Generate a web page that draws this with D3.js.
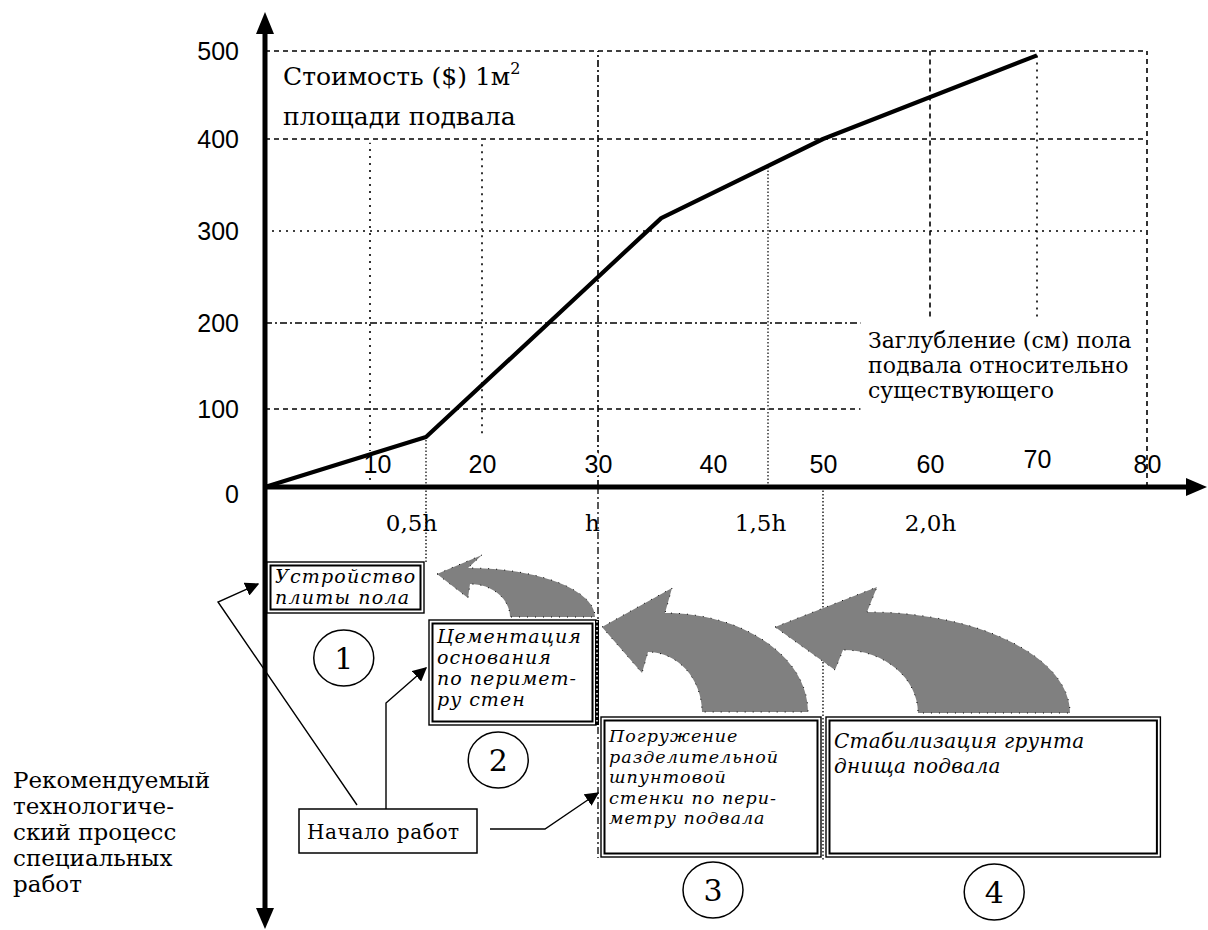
<!DOCTYPE html>
<html>
<head>
<meta charset="utf-8">
<script src="https://cdn.jsdelivr.net/npm/d3@7"></script>
<style>
  html, body { margin: 0; padding: 0; background: #ffffff; }
  svg { display: block; }
</style>
</head>
<body>
<svg id="chart" width="1208" height="930"></svg>
<script>
// ---------------- DATA ----------------
const depth = [0, 15, 35.5, 50, 70];          // cm
const cost  = [0, 64, 314, 400, 495];         // $ per m2
const yTicks = [0, 100, 200, 300, 400, 500];
const xTicks = [10, 20, 30, 40, 50, 60, 70, 80];
const hTicks  = [15, 30, 45, 60];
const hLabels = ["0,5h", "h", "1,5h", "2,0h"];
const stageStart = [0, 15, 30, 50];
const stageEnd   = [15, 30, 50, 81.4];
const stageNums  = ["1", "2", "3", "4"];
const stageTexts = [
  ["Устройство", "плиты пола"],
  ["Цементация", "основания", "по перимет-", "ру стен"],
  ["Погружение", "разделительной", "шпунтовой", "стенки по пери-", "метру подвала"],
  ["Стабилизация грунта", "днища подвала"]
];
const titleLines = ["Стоимость ($) 1м", "площади подвала"];
const xTitleLines = ["Заглубление (см) пола", "подвала относительно", "существующего"];
const leftLines = ["Рекомендуемый", "технологиче-", "ский процесс", "специальных", "работ"];
const startLabel = "Начало работ";

// ---------------- LAYOUT ----------------
const svg = d3.select("#chart");
const serif = "'DejaVu Serif', 'Liberation Serif', serif";
const sans = "'Liberation Sans', Arial, sans-serif";

const x = d3.scaleLinear()
  .domain([0, 10, 20, 30, 40, 50, 60, 70, 80])
  .range([265, 370, 482, 598, 713, 823, 930, 1037, 1147]);
const y = d3.scaleLinear()
  .domain([0, 100, 200, 300, 400, 500])
  .range([487, 409, 323, 231, 139, 51]);

const DASH = "5,4", DOT = "2,5", DASHDOT = "7,3,2,3", FINE = "1.5,2";

// horizontal grid
const hGrid = [
  {v: 500, to: 80, d: DASH},
  {v: 400, to: 80, d: DASH},
  {v: 300, to: 80, d: DOT},
  {v: 200, to: 53.5, d: DASHDOT},
  {v: 100, to: 53.5, d: DASH}
];
svg.append("g").selectAll("line").data(hGrid).join("line")
  .attr("x1", x(0)).attr("x2", d => x(d.to))
  .attr("y1", d => y(d.v)).attr("y2", d => y(d.v))
  .attr("stroke", "#000").attr("stroke-width", 1.6)
  .attr("stroke-dasharray", d => d.d);

// vertical grid (above axis)
const vGrid = [
  {v: 10, a: 0, b: 396, d: DOT},
  {v: 15, a: 0, b: 64, d: FINE, w: 1.2},
  {v: 20, a: 69, b: 396, d: DOT},
  {v: 30, a: 0, b: 500, d: DASHDOT},
  {v: 45, a: 0, b: 370, d: FINE, w: 1.2},
  {v: 60, a: 207, b: 500, d: DASH},
  {v: 70, a: 207, b: 495, d: DOT},
  {v: 80, a: 0, b: 500, d: DASH}
];
svg.append("g").selectAll("line").data(vGrid).join("line")
  .attr("x1", d => x(d.v)).attr("x2", d => x(d.v))
  .attr("y1", d => y(d.a)).attr("y2", d => y(d.b))
  .attr("stroke", "#000").attr("stroke-width", d => d.w || 1.6)
  .attr("stroke-dasharray", d => d.d);

// stage separators below axis
const sep = [
  {v: 15, y2: 562, d: FINE},
  {v: 30, y2: 858, d: DASHDOT},
  {v: 50, y2: 860, d: FINE}
];
svg.append("g").selectAll("line").data(sep).join("line")
  .attr("x1", d => x(d.v)).attr("x2", d => x(d.v))
  .attr("y1", y(0)).attr("y2", d => d.y2)
  .attr("stroke", "#000").attr("stroke-width", 1.3)
  .attr("stroke-dasharray", d => d.d);

// Y tick labels
const yAxis = svg.append("g").attr("transform", `translate(${x(0)},0)`)
  .call(d3.axisLeft(y).tickValues(yTicks).tickSize(0).tickPadding(26));
yAxis.select(".domain").remove();
yAxis.selectAll("text").attr("font-family", sans).attr("font-size", 25).attr("fill", "#000")
  .attr("dy", d => d === 0 ? "0.6em" : "0.35em");

// X tick labels (above axis)
const xAxis = svg.append("g").attr("transform", `translate(0,${y(0)})`)
  .call(d3.axisTop(x).tickValues(xTicks).tickSize(0).tickPadding(14));
xAxis.select(".domain").remove();
xAxis.selectAll("text").attr("font-family", sans).attr("font-size", 25).attr("fill", "#000")
  .attr("dx", d => d === 10 ? 7 : 0)
  .attr("dy", d => d === 70 ? "-0.2em" : "0")
  .style("paint-order", "stroke")
  .attr("stroke", d => d === 80 ? "none" : "#fff").attr("stroke-width", 8);

// h labels (below axis)
const hAxis = svg.append("g").attr("transform", `translate(0,${y(0)})`)
  .call(d3.axisBottom(x).tickValues(hTicks).tickFormat((d, i) => hLabels[i]).tickSize(0).tickPadding(28));
hAxis.select(".domain").remove();
hAxis.selectAll("text").attr("font-family", serif).attr("font-size", 23).attr("fill", "#000")
  .attr("dx", (d, i) => [-15, -6, -8, 0][i]);

// data line
const line = d3.line().x(d => x(d[0])).y(d => y(d[1]));
svg.append("path")
  .datum(depth.map((d, i) => [d, cost[i]]))
  .attr("d", line)
  .attr("fill", "none").attr("stroke", "#000").attr("stroke-width", 4.2)
  .attr("stroke-linejoin", "round");

// axes
const axG = svg.append("g");
axG.append("line").attr("x1", x(0)).attr("x2", x(0)).attr("y1", 24).attr("y2", 915)
  .attr("stroke", "#000").attr("stroke-width", 5);
axG.append("path").attr("d", `M${x(0)},12 L${x(0) - 9},34 L${x(0) + 9},34 Z`).attr("fill", "#000");
axG.append("path").attr("d", `M${x(0)},929 L${x(0) - 9},908 L${x(0) + 9},908 Z`).attr("fill", "#000");
axG.append("line").attr("x1", x(0) - 2).attr("x2", 1195).attr("y1", y(0)).attr("y2", y(0))
  .attr("stroke", "#000").attr("stroke-width", 5);
axG.append("path").attr("d", `M1207,${y(0)} L1186,${y(0) - 9} L1186,${y(0) + 9} Z`).attr("fill", "#000");

// title texts
const title = svg.append("text").attr("font-family", serif).attr("font-size", 25).attr("fill", "#000");
title.append("tspan").attr("x", 283).attr("y", 85).text(titleLines[0]);
title.append("tspan").attr("dy", -11).attr("font-size", 16).text("2");
svg.append("text").attr("font-family", serif).attr("font-size", 25).attr("fill", "#000")
  .attr("x", 283).attr("y", 125).text(titleLines[1]);

svg.append("g").selectAll("text").data(xTitleLines).join("text")
  .attr("font-family", serif).attr("font-size", 22).attr("fill", "#000")
  .attr("x", 868).attr("y", (d, i) => 348 + i * 25).text(d => d);

svg.append("g").selectAll("text").data(leftLines).join("text")
  .attr("font-family", serif).attr("font-size", 23).attr("fill", "#000")
  .attr("x", 13).attr("y", (d, i) => 788 + i * 26).text(d => d);

// curved gray arrows
const arrows = [
  {tip: [437, 574], tb: [482, 555], nt: [468, 568], br: [595, 617], bl: [510, 617], nb: [470, 584], bb: [468, 598]},
  {tip: [602, 627], tb: [672, 588], nt: [665, 613], br: [808, 712], bl: [702, 712], nb: [648, 652], bb: [642, 673]},
  {tip: [775, 627], tb: [877, 587], nt: [867, 612], br: [1070, 713], bl: [918, 713], nb: [843, 650], bb: [835, 670]}
];
const k = 0.5523;
function arrowPath(a) {
  const p = d3.path();
  p.moveTo(...a.tip);
  p.lineTo(...a.tb);
  p.lineTo(...a.nt);
  let rx = a.br[0] - a.nt[0], ry = a.br[1] - a.nt[1];
  p.bezierCurveTo(a.nt[0] + k * rx, a.nt[1], a.br[0], a.br[1] - k * ry, a.br[0], a.br[1]);
  p.lineTo(...a.bl);
  rx = a.bl[0] - a.nb[0]; ry = a.bl[1] - a.nb[1];
  p.bezierCurveTo(a.bl[0], a.bl[1] - k * ry, a.nb[0] + k * rx, a.nb[1], a.nb[0], a.nb[1]);
  p.lineTo(...a.bb);
  p.closePath();
  return p.toString();
}
svg.append("g").selectAll("path").data(arrows).join("path")
  .attr("d", arrowPath).attr("fill", "#808080")
  .attr("stroke", "#000").attr("stroke-width", 1).attr("stroke-dasharray", "1,7");

// stage boxes
const boxY = [[562, 613], [620, 725], [717, 857], [717, 857]];
const firstBase = [21, 23, 25, 31];
const lineH = [21, 21, 20.5, 25];
const fontS = [19, 19, 17.5, 20];
const spacing = [1.2, 1, 1, 0.3];
const boxes = svg.append("g");
stageStart.forEach((s, i) => {
  const x1 = x(s) + (i === 0 ? 2 : 3), x2 = x(stageEnd[i]) - 2;
  const [y1, y2] = boxY[i];
  const g = boxes.append("g");
  g.append("rect").attr("x", x1).attr("y", y1).attr("width", x2 - x1).attr("height", y2 - y1)
    .attr("fill", "#fff").attr("stroke", "#000").attr("stroke-width", 1.4);
  g.append("rect").attr("x", x1 + 3.5).attr("y", y1 + 3.5).attr("width", x2 - x1 - 7).attr("height", y2 - y1 - 7)
    .attr("fill", "none").attr("stroke", "#000").attr("stroke-width", 2);
  g.selectAll("text").data(stageTexts[i]).join("text")
    .attr("font-family", serif).attr("font-style", "italic").attr("font-size", fontS[i])
    .attr("letter-spacing", spacing[i])
    .attr("fill", "#000")
    .attr("x", x1 + 8).attr("y", (d, j) => y1 + firstBase[i] + j * lineH[i]).text(d => d);
});
// dotted right edge of box 2
boxes.append("line").attr("x1", x(30) - 1).attr("x2", x(30) - 1).attr("y1", 620).attr("y2", 725)
  .attr("stroke", "#000").attr("stroke-width", 4);
boxes.append("line").attr("x1", x(30) - 1).attr("x2", x(30) - 1).attr("y1", 621).attr("y2", 724)
  .attr("stroke", "#fff").attr("stroke-width", 1.5).attr("stroke-dasharray", "1.5,3");

// circled numbers
const circX = [7.5, 21.4, 40, 66];
const circY = [658, 760, 890, 892];
const circ = svg.append("g").selectAll("g").data(stageNums).join("g")
  .attr("transform", (d, i) => `translate(${x(circX[i])},${circY[i]})`);
circ.append("ellipse").attr("rx", 30).attr("ry", 28)
  .attr("fill", "#fff").attr("stroke", "#000").attr("stroke-width", 1.5);
circ.append("text").attr("text-anchor", "middle").attr("dy", "0.36em")
  .attr("font-family", serif).attr("font-size", 30).attr("fill", "#000").text(d => d);

// start box and thin arrows
svg.append("defs").append("marker").attr("id", "ah")
  .attr("viewBox", "0 0 10 10").attr("refX", 9).attr("refY", 5)
  .attr("markerWidth", 14).attr("markerHeight", 14).attr("markerUnits", "userSpaceOnUse")
  .attr("orient", "auto")
  .append("path").attr("d", "M0,0 L10,5 L0,10 Z").attr("fill", "#000");

const thin = [
  [[357, 805], [218, 602], [258, 584]],
  [[386, 809], [386, 703], [426, 668]],
  [[490, 829], [545, 829], [598, 793]]
];
svg.append("g").selectAll("path").data(thin).join("path")
  .attr("d", d => d3.line()(d))
  .attr("fill", "none").attr("stroke", "#000").attr("stroke-width", 1.4)
  .attr("marker-end", "url(#ah)");

svg.append("rect").attr("x", 299).attr("y", 809).attr("width", 178).attr("height", 44)
  .attr("fill", "#fff").attr("stroke", "#000").attr("stroke-width", 1.5);
svg.append("text").attr("x", 307).attr("y", 839)
  .attr("font-family", serif).attr("font-size", 20).attr("letter-spacing", 0.6)
  .attr("fill", "#000").text(startLabel);
</script>
</body>
</html>
